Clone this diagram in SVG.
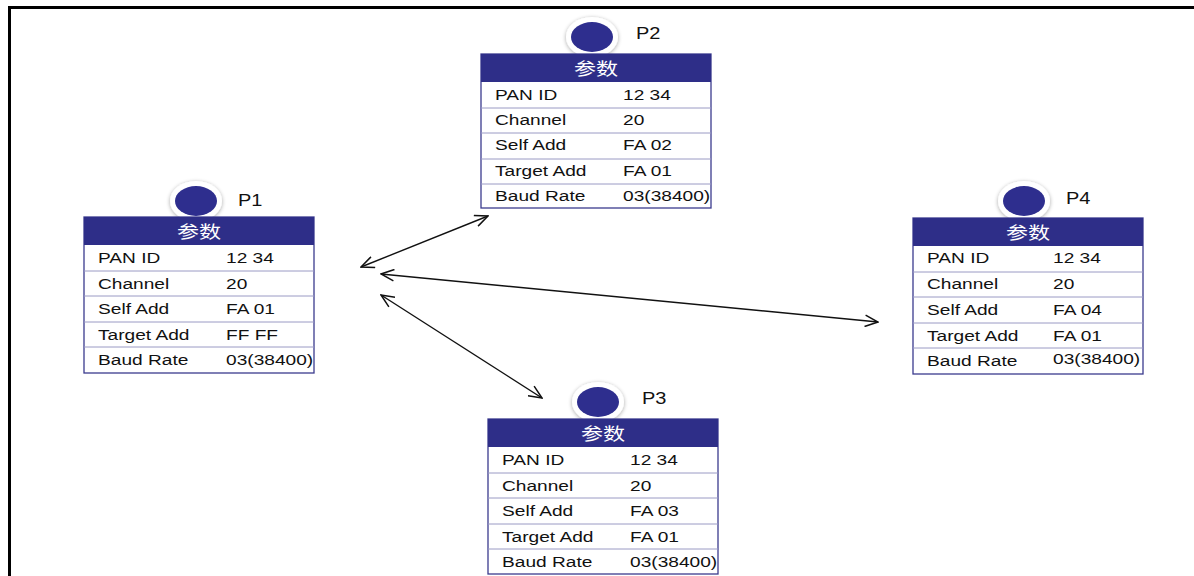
<svg xmlns="http://www.w3.org/2000/svg" width="1194" height="576" viewBox="0 0 1194 576">
<defs>
<style>
.hdr{fill:#2e2e88;}
.tbl{fill:#fff;stroke:#3b3b8e;stroke-width:1.3;}
.row{stroke:#9a9ac4;stroke-width:1;}
.t{font-family:"Liberation Sans",Arial,sans-serif;font-size:14.5px;fill:#111;}
.h{font-family:"Noto Sans CJK SC",sans-serif;font-size:17px;fill:#fff;text-anchor:middle;}
.lbl{font-family:"Liberation Sans",Arial,sans-serif;font-size:16px;fill:#111;}
.dot{fill:#2e2e8e;}
.ring{fill:#fff;filter:url(#sh);}
.conn{stroke:#111;stroke-width:1.4;fill:none;marker-start:url(#arr);marker-end:url(#arr);}
</style>
<filter id="sh" x="-50%" y="-50%" width="200%" height="200%">
<feGaussianBlur in="SourceAlpha" stdDeviation="2"/>
<feOffset dx="0" dy="1" result="b"/>
<feComponentTransfer><feFuncA type="linear" slope="0.35"/></feComponentTransfer>
<feMerge><feMergeNode/><feMergeNode in="SourceGraphic"/></feMerge>
</filter>
<marker id="arr" viewBox="0 0 15 13" refX="14" refY="6.5" markerWidth="15" markerHeight="13" markerUnits="userSpaceOnUse" orient="auto-start-reverse">
<path d="M1,0.8 L14,6.5 L1,12.2" fill="none" stroke="#111" stroke-width="1.5"/>
</marker>
</defs>
<rect x="0" y="0" width="1194" height="576" fill="#fff"/>
<rect x="9.5" y="7.5" width="1200" height="600" fill="none" stroke="#000" stroke-width="3"/>

<g id="connectors">
<line class="conn" x1="361" y1="267" x2="488" y2="216"/>
<line class="conn" x1="381" y1="274" x2="878" y2="322"/>
<line class="conn" x1="381" y1="295" x2="542" y2="398"/>
</g>

<g id="P1" transform="translate(84,217)">
<ellipse class="ring" cx="112" cy="-16" rx="26" ry="20"/>
<ellipse class="dot" cx="112" cy="-16" rx="21" ry="15"/>
<text class="lbl" transform="translate(154,-11) scale(1.25,1)">P1</text>
<rect class="tbl" x="0" y="0" width="230" height="156"/>
<rect class="hdr" x="0" y="0" width="230" height="28"/>
<text class="h" transform="translate(115,21) scale(1.3,1)">参数</text>
<line class="row" x1="0" y1="54" x2="230" y2="54"/>
<line class="row" x1="0" y1="79" x2="230" y2="79"/>
<line class="row" x1="0" y1="105" x2="230" y2="105"/>
<line class="row" x1="0" y1="130" x2="230" y2="130"/>
<g transform="translate(14,0) scale(1.32,1)">
<text class="t" y="46">PAN ID</text><text class="t" y="72">Channel</text><text class="t" y="97">Self Add</text><text class="t" y="123">Target Add</text><text class="t" y="148">Baud Rate</text>
</g>
<g transform="translate(142,0) scale(1.32,1)">
<text class="t" y="46">12 34</text><text class="t" y="72">20</text><text class="t" y="97">FA 01</text><text class="t" y="123">FF FF</text><text class="t" y="148">03(38400)</text>
</g>
</g>

<g id="P2" transform="translate(481,54)">
<ellipse class="ring" cx="111" cy="-17" rx="26" ry="20"/>
<ellipse class="dot" cx="111" cy="-17" rx="21" ry="15"/>
<text class="lbl" transform="translate(155,-15) scale(1.25,1)">P2</text>
<rect class="tbl" x="0" y="0" width="230" height="154"/>
<rect class="hdr" x="0" y="0" width="230" height="28"/>
<text class="h" transform="translate(115,21) scale(1.3,1)">参数</text>
<line class="row" x1="0" y1="54" x2="230" y2="54"/>
<line class="row" x1="0" y1="79" x2="230" y2="79"/>
<line class="row" x1="0" y1="105" x2="230" y2="105"/>
<line class="row" x1="0" y1="130" x2="230" y2="130"/>
<g transform="translate(14,0) scale(1.32,1)">
<text class="t" y="46">PAN ID</text><text class="t" y="71">Channel</text><text class="t" y="96">Self Add</text><text class="t" y="122">Target Add</text><text class="t" y="147">Baud Rate</text>
</g>
<g transform="translate(142,0) scale(1.32,1)">
<text class="t" y="46">12 34</text><text class="t" y="71">20</text><text class="t" y="96">FA 02</text><text class="t" y="122">FA 01</text><text class="t" y="147">03(38400)</text>
</g>
</g>

<g id="P3" transform="translate(488,419)">
<ellipse class="ring" cx="110" cy="-17" rx="26" ry="20"/>
<ellipse class="dot" cx="110" cy="-17" rx="21" ry="15"/>
<text class="lbl" transform="translate(154,-15) scale(1.25,1)">P3</text>
<rect class="tbl" x="0" y="0" width="230" height="155"/>
<rect class="hdr" x="0" y="0" width="230" height="28"/>
<text class="h" transform="translate(115,21) scale(1.3,1)">参数</text>
<line class="row" x1="0" y1="54" x2="230" y2="54"/>
<line class="row" x1="0" y1="79" x2="230" y2="79"/>
<line class="row" x1="0" y1="105" x2="230" y2="105"/>
<line class="row" x1="0" y1="130" x2="230" y2="130"/>
<g transform="translate(14,0) scale(1.32,1)">
<text class="t" y="46">PAN ID</text><text class="t" y="72">Channel</text><text class="t" y="97">Self Add</text><text class="t" y="123">Target Add</text><text class="t" y="148">Baud Rate</text>
</g>
<g transform="translate(142,0) scale(1.32,1)">
<text class="t" y="46">12 34</text><text class="t" y="72">20</text><text class="t" y="97">FA 03</text><text class="t" y="123">FA 01</text><text class="t" y="148">03(38400)</text>
</g>
</g>

<g id="P4" transform="translate(913,218)">
<ellipse class="ring" cx="111" cy="-17" rx="26" ry="20"/>
<ellipse class="dot" cx="111" cy="-17" rx="21" ry="15"/>
<text class="lbl" transform="translate(153,-14) scale(1.25,1)">P4</text>
<rect class="tbl" x="0" y="0" width="230" height="156"/>
<rect class="hdr" x="0" y="0" width="230" height="28"/>
<text class="h" transform="translate(115,21) scale(1.3,1)">参数</text>
<line class="row" x1="0" y1="54" x2="230" y2="54"/>
<line class="row" x1="0" y1="79" x2="230" y2="79"/>
<line class="row" x1="0" y1="105" x2="230" y2="105"/>
<line class="row" x1="0" y1="130" x2="230" y2="130"/>
<g transform="translate(14,0) scale(1.32,1)">
<text class="t" y="45">PAN ID</text><text class="t" y="71">Channel</text><text class="t" y="97">Self Add</text><text class="t" y="123">Target Add</text><text class="t" y="148">Baud Rate</text>
</g>
<g transform="translate(140,0) scale(1.32,1)">
<text class="t" y="45">12 34</text><text class="t" y="71">20</text><text class="t" y="97">FA 04</text><text class="t" y="123">FA 01</text><text class="t" y="146">03(38400)</text>
</g>
</g>
</svg>
